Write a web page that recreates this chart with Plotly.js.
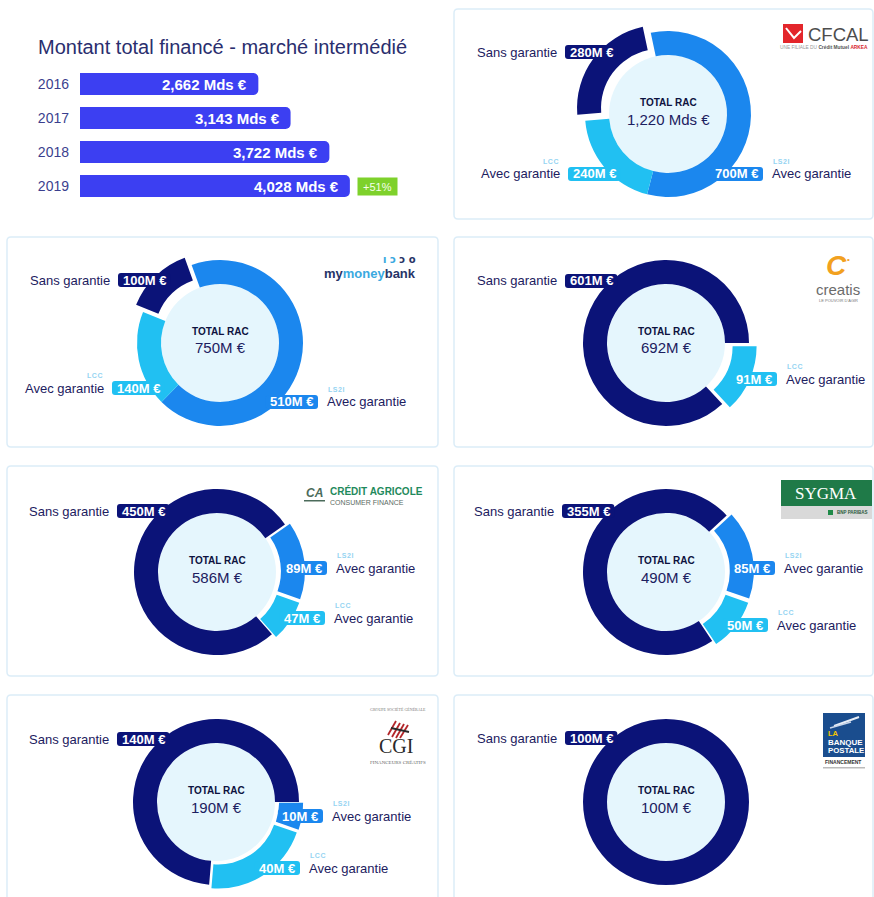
<!DOCTYPE html>
<html><head><meta charset="utf-8">
<script src="https://cdn.plot.ly/plotly-3.0.1.min.js"></script>
<style>html,body{margin:0;padding:0;background:#fff}</style>
</head><body><div id="chart" style="width:874px;height:897px"></div>
<script>
// ---------- data ----------
const years = ['2016', '2017', '2018', '2019'];
const montantMds = [2.662, 3.143, 3.722, 4.028];
const croissance = '+51%';

const lenders = ['CFCAL', 'My Money Bank', 'Creatis', 'Crédit Agricole Consumer Finance', 'Sygma', 'CGI', 'La Banque Postale'];
const sansGarantie = [280, 100, 601, 450, 355, 140, 100];
const avecGarantieLS2I = [700, 510, 0, 89, 85, 10, 0];
const avecGarantieLCC = [240, 140, 91, 47, 50, 40, 0];

// ---------- helpers ----------
const W = 874, H = 897;
const X = p => p / W, Y = p => 1 - p / H;
const FONT = 'Liberation Sans, Arial, Helvetica, sans-serif';
const SERIF = 'Liberation Serif, Times New Roman, serif';
const ctx = document.createElement('canvas').getContext('2d');
function tw(text, size, bold) { ctx.font = (bold ? 'bold ' : '') + size + 'px "Liberation Sans"'; return ctx.measureText(text).width; }

const shapes = [], anns = [], traces = [];
function ann(x, y, text, o) {
  o = o || {};
  return {xref: 'paper', yref: 'paper', x: X(x), y: Y(y), text: text, showarrow: false,
    xanchor: o.xanchor || 'center', yanchor: 'middle',
    font: {family: o.family || FONT, size: o.size || 13, color: o.color || '#1c2060', weight: o.bold ? 700 : 400}};
}
function rect(x0, y0, x1, y1, fill, layer, line) {
  return {type: 'rect', xref: 'paper', yref: 'paper', x0: X(x0), x1: X(x1), y0: Y(y1), y1: Y(y0),
    fillcolor: fill, line: line || {width: 0}, layer: layer || 'below'};
}
function roundRect(x0, y0, x1, y1, r, fill, layer, line) {
  const px = v => X(v).toFixed(6), py = v => Y(v).toFixed(6);
  const d = `M${px(x0 + r)},${py(y0)} L${px(x1 - r)},${py(y0)} Q${px(x1)},${py(y0)} ${px(x1)},${py(y0 + r)} ` +
    `L${px(x1)},${py(y1 - r)} Q${px(x1)},${py(y1)} ${px(x1 - r)},${py(y1)} L${px(x0 + r)},${py(y1)} ` +
    `Q${px(x0)},${py(y1)} ${px(x0)},${py(y1 - r)} L${px(x0)},${py(y0 + r)} Q${px(x0)},${py(y0)} ${px(x0 + r)},${py(y0)} Z`;
  return {type: 'path', xref: 'paper', yref: 'paper', path: d, fillcolor: fill, line: line || {width: 0}, layer: layer || 'below'};
}
function pathPx(pts, color, width, layer) {
  const d = pts.map((p, i) => (i ? 'L' : 'M') + X(p[0]).toFixed(6) + ',' + Y(p[1]).toFixed(6)).join(' ');
  return {type: 'path', xref: 'paper', yref: 'paper', path: d, line: {color: color, width: width}, layer: layer || 'above'};
}

// ---------- panels ----------
const panelLine = {color: '#dcedf8', width: 1.5};
[[454, 9, 873, 219], [7, 237, 438, 447], [454, 237, 873, 447], [7, 466, 438, 676], [454, 466, 873, 676], [7, 695, 438, 905], [454, 695, 873, 905]]
  .forEach(p => shapes.push(roundRect(p[0], p[1], p[2], p[3], 4, '#ffffff', 'below', panelLine)));

// ---------- bar chart ----------
traces.push({type: 'bar', orientation: 'h', y: years, x: montantMds, marker: {color: '#3c3ff2'},
  hoverinfo: 'skip', textposition: 'none', showlegend: false, xaxis: 'x', yaxis: 'y'});
anns.push(ann(36, 47, 'Montant total financé - marché intermédié', {size: 20, color: '#2a2e6e', xanchor: 'left'}));
years.forEach((yr, i) => {
  anns.push({xref: 'x', yref: 'y', x: montantMds[i], y: i, xanchor: 'right', yanchor: 'middle', xshift: -9,
    showarrow: false, text: montantMds[i].toFixed(3).replace('.', ',') + ' Mds €',
    font: {family: FONT, size: 15, color: '#ffffff', weight: 700}});
});
anns.push({xref: 'x', yref: 'y', x: montantMds[3], y: 3, xanchor: 'left', yanchor: 'middle', xshift: 7,
  showarrow: false, text: '&nbsp;' + croissance + '&nbsp;', bgcolor: '#7ed12b', borderpad: 2, height: 13,
  font: {family: FONT, size: 11, color: '#f4ffe8'}});

// ---------- donuts ----------
const names = {sans: 'Sans garantie', ls2i: 'LS2I', lcc: 'LCC'};
const colors = {sans: '#0b1378', ls2i: '#1b87ee', lcc: '#21c0f2'};
const tags = {ls2i: 'L\u200aS\u200a2\u200aI', lcc: 'L\u200aC\u200aC'};
const R = 83, RI = 59;

const cfg = [
  {cx: 668, cy: 114, rot: -12, order: ['ls2i', 'lcc', 'sans'], pull: {sans: 0.12},
    lab: {sans: ['L', 565, 52], lcc: ['L', 568, 174], ls2i: ['R', 763, 174]}},
  {cx: 220, cy: 343, rot: -20, order: ['ls2i', 'lcc', 'sans'], pull: {sans: 0.12},
    lab: {sans: ['L', 118, 280], lcc: ['L', 112, 388], ls2i: ['R', 318, 402]}},
  {cx: 666, cy: 343, rot: 90, order: ['lcc', 'sans'], pull: {lcc: 0.1},
    lab: {sans: ['L', 565, 281], lcc: ['R', 777, 379]}},
  {cx: 217, cy: 572, rot: 55, order: ['ls2i', 'lcc', 'sans'], pull: {ls2i: 0.06, lcc: 0.06},
    lab: {sans: ['L', 117, 511], ls2i: ['R', 327, 568], lcc: ['R', 325, 618]}},
  {cx: 666, cy: 572, rot: 47, order: ['ls2i', 'lcc', 'sans'], pull: {ls2i: 0.06, lcc: 0.06},
    lab: {sans: ['L', 562, 511], ls2i: ['R', 775, 568], lcc: ['R', 768, 625]}},
  {cx: 216, cy: 802, rot: 90, order: ['ls2i', 'lcc', 'sans'], pull: {ls2i: 0.05, lcc: 0.05},
    lab: {sans: ['L', 117, 739], ls2i: ['R', 323, 816], lcc: ['R', 300, 868]}},
  {cx: 666, cy: 802, rot: 0, order: ['sans'], pull: {},
    lab: {sans: ['L', 565, 738]}}
];

function fmtM(v) { return v >= 1000 ? (v / 1000).toFixed(3).replace('.', ',') + ' Mds €' : v + 'M €'; }

cfg.forEach((c, i) => {
  const vals = {sans: sansGarantie[i], ls2i: avecGarantieLS2I[i], lcc: avecGarantieLCC[i]};
  const keys = c.order.filter(k => vals[k] > 0);
  const maxPull = Math.max(0, ...keys.map(k => c.pull[k] || 0));
  const h = R * (1 + maxPull);
  traces.push({type: 'pie', name: lenders[i], values: keys.map(k => vals[k]), labels: keys.map(k => names[k]),
    sort: false, direction: 'clockwise', rotation: c.rot, hole: RI / R,
    pull: keys.map(k => c.pull[k] || 0), marker: {colors: keys.map(k => colors[k]), line: {width: 0}},
    textinfo: 'none', hoverinfo: 'skip', showlegend: false,
    domain: {x: [X(c.cx - h), X(c.cx + h)], y: [Y(c.cy + h), Y(c.cy - h)]}});
  shapes.push({type: 'circle', xref: 'paper', yref: 'paper', x0: X(c.cx - RI), x1: X(c.cx + RI),
    y0: Y(c.cy + RI), y1: Y(c.cy - RI), fillcolor: '#e5f6fd', line: {width: 0}, layer: 'below'});
  const total = keys.reduce((s, k) => s + vals[k], 0);
  anns.push(ann(c.cx, c.cy - 12, 'TOTAL RAC', {size: 10, bold: true, color: '#0d1240'}));
  anns.push(ann(c.cx, c.cy + 5, fmtM(total), {size: 15, color: '#1c2060'}));
  keys.forEach(k => {
    const [side, x, y] = c.lab[k];
    const txt = fmtM(vals[k]);
    const w = tw(txt, 13, true) + 9, bh = 14;
    const x0 = side === 'L' ? x : x - w, x1 = x0 + w;
    shapes.push(roundRect(x0, y - bh / 2, x1, y + bh / 2, 3, colors[k], 'above'));
    anns.push(ann((x0 + x1) / 2, y, txt, {size: 13, bold: true, color: '#ffffff'}));
    const label = k === 'sans' ? 'Sans garantie' : 'Avec garantie';
    if (side === 'L') {
      anns.push(ann(x - 6, y, label, {size: 13, xanchor: 'right'}));
      if (tags[k]) anns.push(ann(x - 7, y - 12.5, tags[k], {size: 7, bold: true, color: '#95d4f2', xanchor: 'right'}));
    } else {
      anns.push(ann(x + 7, y, label, {size: 13, xanchor: 'left'}));
      if (tags[k]) anns.push(ann(x + 8, y - 12.5, tags[k], {size: 7, bold: true, color: '#95d4f2', xanchor: 'left'}));
    }
  });
});

// ---------- logos (approximations as text) ----------
// CFCAL
shapes.push(rect(783, 24, 803, 43, '#e3262b', 'above'));
shapes.push(pathPx([[786, 28], [794, 38], [801, 31]], '#ffffff', 2));
anns.push(ann(806, 34, 'CFCAL', {size: 18.5, color: '#4d4d4d', xanchor: 'left'}));
anns.push(ann(824, 47, '<span style="color:#999">UNE FILIALE DU </span><b>Crédit Mutuel</b> <b><span style="color:#d8262b">ARKEA</span></b>', {size: 4.8, color: '#555'}));
// mymoneybank
anns.push(ann(418, 260, '<span style="color:#3aa9df">ı ɔ</span> ɔ o', {size: 10, bold: true, color: '#263467', xanchor: 'right', family: 'DejaVu Sans'}));
anns.push(ann(418, 273, 'my<span style="color:#3aa9df">money</span>bank', {size: 13, bold: true, color: '#263467', xanchor: 'right'}));
// creatis
anns.push(ann(836, 266, '<i>C</i>', {size: 28, bold: true, color: '#f2a11f'}));
anns.push(ann(848, 260, '•', {size: 8, color: '#f2a11f'}));
anns.push(ann(838, 290, 'creatis', {size: 15, color: '#6b6b6b'}));
anns.push(ann(838, 300, "LE POUVOIR D'AGIR", {size: 4, color: '#777'}));
// Crédit Agricole Consumer Finance
anns.push(ann(314, 493, '<i>CA</i>', {size: 12, bold: true, color: '#4b6b5b'}));
shapes.push(rect(304, 500, 325, 501.5, '#4b6b5b', 'above'));
anns.push(ann(328, 491, 'CRÉDIT AGRICOLE', {size: 10, bold: true, color: '#1f8a5c', xanchor: 'left'}));
anns.push(ann(328, 502, 'CONSUMER FINANCE', {size: 7, color: '#5b6b63', xanchor: 'left'}));
// SYGMA
shapes.push(rect(781, 480, 872, 506, '#1f7a48', 'above'));
shapes.push(rect(781, 506, 872, 519, '#d9d9d9', 'above'));
anns.push(ann(826, 493, 'SYGMA', {size: 17, color: '#ffffff', family: SERIF}));
shapes.push(rect(828, 510, 833, 515, '#1f8a48', 'above'));
anns.push(ann(835, 512.5, 'BNP PARIBAS', {size: 4.5, bold: true, color: '#2c5a3c', xanchor: 'left'}));
// CGI
anns.push(ann(398, 709, 'GROUPE SOCIÉTÉ GÉNÉRALE', {size: 4, color: '#777', family: SERIF}));
[[388, 735, 396, 721, '#b3262a'], [392, 737, 400, 723, '#b3262a'], [396, 738, 404, 724, '#b3262a'], [400, 738, 408, 725, '#b3262a'], [391, 728, 409, 732, '#2a2a2a']]
  .forEach(l => shapes.push(pathPx([[l[0], l[1]], [l[2], l[3]]], l[4], 1.8)));
anns.push(ann(396, 746, 'CGI', {size: 20, color: '#2a2a2a', family: SERIF}));
anns.push(ann(398, 762, 'FINANCEURS CRÉATIFS', {size: 5, color: '#666', family: SERIF}));
// La Banque Postale
shapes.push(rect(823, 713, 865, 757, '#1a4d8e', 'above'));
shapes.push(pathPx([[834, 726], [859, 717]], '#e8eef7', 2));
shapes.push(pathPx([[830, 728], [851, 722]], '#c9d6ea', 1.5));
anns.push(ann(826, 733, 'LA', {size: 7.5, bold: true, color: '#f7c600', xanchor: 'left'}));
anns.push(ann(826, 742, 'BANQUE', {size: 8, bold: true, color: '#ffffff', xanchor: 'left'}));
anns.push(ann(826, 750, 'POSTALE', {size: 7.8, bold: true, color: '#ffffff', xanchor: 'left'}));
anns.push(ann(823, 762, 'FINANCEMENT', {size: 5, bold: true, color: '#333', xanchor: 'left'}));
shapes.push(rect(823, 767, 865, 768.5, '#bbbbbb', 'above'));

const layout = {
  width: W, height: H, margin: {l: 0, r: 0, t: 0, b: 0},
  paper_bgcolor: '#ffffff', plot_bgcolor: 'rgba(0,0,0,0)', showlegend: false,
  font: {family: FONT},
  xaxis: {domain: [X(80), X(400)], range: [0, 320 / 67], visible: false, fixedrange: true},
  yaxis: {domain: [Y(203), Y(67)], type: 'category', categoryorder: 'array', categoryarray: years,
    range: [years.length - 0.5, -0.5], autorange: false, showgrid: false, zeroline: false,
    showline: false, ticks: '', tickfont: {family: FONT, size: 14, color: '#3b3f8e'}, ticklabelstandoff: 10, fixedrange: true},
  bargap: 0.35, barcornerradius: 5,
  shapes: shapes, annotations: anns
};
Plotly.newPlot('chart', traces, layout, {staticPlot: true, displayModeBar: false});
</script></body></html>
